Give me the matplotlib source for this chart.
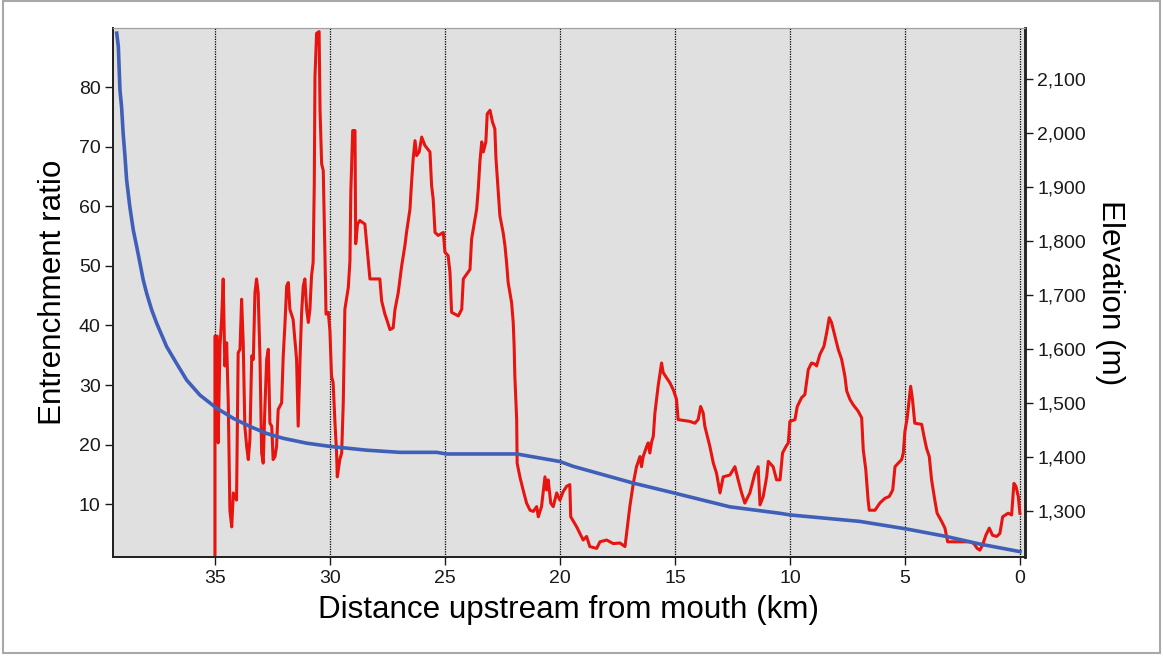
import matplotlib
matplotlib.use("Agg")
import matplotlib.pyplot as plt
from matplotlib.patches import Rectangle
from matplotlib.ticker import FuncFormatter

plt.rcParams['font.family'] = ['Liberation Sans', 'DejaVu Sans']

# Entrenchment ratio along the channel (distance upstream, km)
ratio_km = [35.00, 35.00, 34.90, 34.86, 34.78, 34.71, 34.64, 34.57, 34.49, 34.42,
            34.35, 34.27, 34.20, 34.06, 33.99, 33.91, 33.84, 33.77, 33.70, 33.62,
            33.55, 33.48, 33.40, 33.33, 33.26, 33.19, 33.12, 33.04, 32.97, 32.90,
            32.83, 32.75, 32.68, 32.61, 32.53, 32.47, 32.39, 32.32, 32.25, 32.10,
            32.03, 31.96, 31.88, 31.81, 31.74, 31.60, 31.45, 31.38, 31.30, 31.23,
            31.16, 31.09, 31.01, 30.94, 30.87, 30.80, 30.73, 30.68, 30.65, 30.58,
            30.47, 30.43, 30.36, 30.29, 30.22, 30.17, 30.07, 30.00, 29.93, 29.86,
            29.78, 29.71, 29.68, 29.57, 29.49, 29.42, 29.35, 29.20, 29.13, 29.09,
            29.01, 28.91, 28.88, 28.80, 28.70, 28.48, 28.33, 28.26, 27.83, 27.75,
            27.61, 27.53, 27.39, 27.25, 27.17, 27.03, 26.88, 26.74, 26.67, 26.52,
            26.45, 26.38, 26.30, 26.23, 26.12, 26.01, 25.87, 25.65, 25.58, 25.51,
            25.43, 25.29, 25.07, 25.00, 24.86, 24.78, 24.71, 24.42, 24.27, 24.20,
            23.91, 23.84, 23.62, 23.55, 23.48, 23.40, 23.33, 23.22, 23.16, 23.04,
            22.93, 22.83, 22.78, 22.68, 22.61, 22.47, 22.39, 22.32, 22.25, 22.10,
            22.03, 21.99, 21.96, 21.88, 21.86, 21.74, 21.60, 21.45, 21.30, 21.16,
            21.01, 20.94, 20.80, 20.65, 20.58, 20.51, 20.40, 20.29, 20.14, 20.00,
            19.86, 19.71, 19.57, 19.53, 19.27, 19.13, 18.99, 18.84, 18.70, 18.40,
            18.26, 17.97, 17.68, 17.39, 17.17, 17.10, 16.96, 16.81, 16.67, 16.52,
            16.45, 16.38, 16.23, 16.16, 16.09, 16.01, 15.94, 15.87, 15.73, 15.58,
            15.51, 15.36, 15.22, 15.07, 14.93, 14.86, 14.35, 14.13, 13.99, 13.88,
            13.77, 13.70, 13.55, 13.48, 13.33, 13.19, 13.04, 12.90, 12.61, 12.39,
            12.25, 12.10, 11.96, 11.74, 11.52, 11.38, 11.30, 11.16, 11.01, 10.94,
            10.73, 10.58, 10.43, 10.32, 10.17, 10.07, 10.00, 9.78, 9.68, 9.49,
            9.35, 9.20, 9.06, 8.91, 8.84, 8.70, 8.52, 8.40, 8.29, 8.19,
            8.04, 7.90, 7.75, 7.61, 7.53, 7.39, 7.25, 7.03, 6.88, 6.81,
            6.70, 6.60, 6.55, 6.30, 6.09, 5.87, 5.68, 5.53, 5.43, 5.29,
            5.14, 5.07, 5.00, 4.90, 4.81, 4.75, 4.67, 4.57, 4.27, 4.17,
            4.06, 3.94, 3.84, 3.70, 3.60, 3.40, 3.26, 3.14, 2.83, 2.17,
            2.00, 1.86, 1.74, 1.62, 1.48, 1.33, 1.19, 1.01, 0.87, 0.75,
            0.51, 0.36, 0.26, 0.17, 0.07, 0.00]
ratio = [1.2, 38.2, 38.2, 20.3, 36.5, 41.0, 47.8, 33.2, 37.1, 27.0,
         9.0, 6.2, 11.9, 10.7, 35.4, 36.0, 44.4, 37.1, 23.1, 19.7,
         17.5, 20.8, 34.9, 34.3, 45.5, 47.8, 45.5, 34.3, 18.6, 16.9,
         25.9, 34.3, 36.0, 23.6, 23.1, 17.5, 18.0, 19.7, 25.9, 27.0,
         34.9, 39.9, 46.6, 47.2, 42.7, 41.0, 34.3, 23.1, 34.3, 42.2,
         46.6, 47.8, 42.7, 40.5, 42.7, 48.3, 50.6, 63.8, 81.7, 89.0,
         89.3, 76.1, 67.1, 66.0, 52.5, 41.9, 42.2, 39.1, 31.5, 30.4,
         23.6, 18.6, 14.6, 17.5, 18.6, 27.0, 42.7, 46.4, 50.8, 62.6,
         72.7, 72.7, 53.7, 57.0, 57.6, 57.0, 50.8, 47.8, 47.8, 44.1,
         41.9, 41.0, 39.3, 39.6, 42.7, 45.5, 50.0, 53.4, 55.6, 59.5,
         64.0, 68.0, 71.0, 68.5, 69.1, 71.6, 70.2, 69.1, 63.5, 61.2,
         55.6, 55.1, 55.6, 52.3, 51.7, 48.9, 42.2, 41.6, 42.7, 47.8,
         49.4, 54.5, 59.5, 62.9, 67.4, 70.8, 69.1, 70.8, 75.5, 76.1,
         74.1, 73.0, 68.0, 62.4, 58.4, 55.6, 53.4, 50.6, 47.2, 43.8,
         40.5, 36.5, 31.5, 24.2, 16.9, 14.6, 12.4, 10.2, 9.0, 8.8,
         9.6, 7.9, 9.6, 14.6, 12.4, 14.1, 10.2, 9.6, 11.9, 10.7,
         12.1, 13.0, 13.3, 7.9, 6.2, 5.1, 4.0, 4.6, 2.9, 2.6,
         3.7, 4.0, 3.4, 3.5, 2.9, 5.1, 9.6, 13.5, 16.3, 18.0,
         16.3, 18.0, 19.7, 20.3, 18.6, 20.5, 21.4, 25.3, 29.8, 33.7,
         32.1, 31.2, 30.4, 29.2, 27.6, 24.2, 23.9, 23.6, 24.2, 26.4,
         25.3, 23.1, 20.8, 19.7, 16.9, 15.2, 11.9, 14.6, 14.9, 16.3,
         14.1, 11.9, 10.2, 11.9, 15.2, 16.3, 9.9, 11.3, 14.6, 17.2,
         16.3, 14.1, 14.1, 18.6, 19.7, 20.3, 23.9, 24.2, 26.4, 27.9,
         28.4, 32.6, 33.7, 33.5, 33.2, 35.1, 36.5, 38.8, 41.3, 40.5,
         38.2, 36.0, 34.3, 31.5, 29.0, 27.6, 26.7, 25.6, 24.5, 19.1,
         15.8, 10.7, 9.0, 9.0, 10.2, 11.0, 11.3, 12.4, 16.3, 16.9,
         17.5, 18.6, 22.2, 24.5, 27.6, 29.8, 27.6, 23.6, 23.4, 21.4,
         19.4, 18.0, 14.1, 10.7, 8.5, 7.1, 6.0, 3.7, 3.7, 3.7,
         3.4, 2.6, 2.3, 3.2, 4.8, 6.0, 4.8, 4.6, 5.1, 7.9,
         8.5, 8.2, 13.5, 13.0, 11.3, 8.5]

# Channel elevation profile
elev_km = [39.27, 39.20, 39.13, 39.06, 38.99, 38.91, 38.84, 38.70, 38.55, 38.40,
           38.26, 38.12, 37.97, 37.75, 37.53, 37.10, 36.67, 36.23, 35.65, 34.93,
           34.20, 33.48, 32.75, 32.03, 31.01, 30.00, 28.40, 26.96, 25.36, 24.93,
           21.88, 20.00, 19.42, 16.81, 15.07, 12.61, 10.43, 10.00, 6.96, 4.93,
           3.19, 1.74, 0.00]
elevation = [2185, 2160, 2080, 2049, 1999, 1956, 1913, 1863, 1820, 1789,
             1759, 1728, 1703, 1672, 1647, 1604, 1573, 1542, 1514, 1490,
             1471, 1456, 1443, 1434, 1425, 1419, 1412, 1408, 1408, 1405,
             1405, 1391, 1382, 1351, 1333, 1307, 1295, 1292, 1280, 1266,
             1252, 1238, 1224]

x_ticks = [0, 5, 10, 15, 20, 25, 30, 35]
left_ticks = [10, 20, 30, 40, 50, 60, 70, 80]
right_ticks = [1300, 1400, 1500, 1600, 1700, 1800, 1900, 2000, 2100]

fig = plt.figure(figsize=(11.63, 6.56), dpi=100)
ax = fig.add_axes([0.0972, 0.1509, 0.7841, 0.8064])
ax.set_facecolor('#e0e0e0')

ax.plot(ratio_km, ratio, color='#e8140f', lw=2.2, zorder=3)
ax.set_xlim(39.43, -0.22)
ax.set_ylim(1.15, 89.9)
ax.set_xticks(x_ticks)
ax.set_yticks(left_ticks)
ax.grid(axis='x', color='black', linestyle=(0, (1, 1)), lw=0.9)
ax.set_axisbelow(True)

ax2 = ax.twinx()
ax2.plot(elev_km, elevation, color='#3f5fb8', lw=2.6)
ax2.set_ylim(1214, 2194.5)
ax2.set_yticks(right_ticks)
ax2.yaxis.set_major_formatter(FuncFormatter(lambda v, p: f'{int(v):,}'))

for a in (ax, ax2):
    a.tick_params(direction='out', length=6, width=1, labelsize=14,
                  colors='#1a1a1a', pad=3)
    a.spines['top'].set_color('#a0a0a0')
    a.spines['left'].set_color('#222222')
    a.spines['bottom'].set_color('#222222')
    a.spines['right'].set_color('#222222')
    a.spines['right'].set_linewidth(1.8)
    a.spines['bottom'].set_linewidth(1.3)
    a.spines['left'].set_linewidth(1.3)

ax.set_xlabel('Distance upstream from mouth (km)', fontsize=22.6, labelpad=6)
ax.set_ylabel('Entrenchment ratio', fontsize=22.6, labelpad=8)
ax2.set_ylabel('Elevation (m)', fontsize=22.6, rotation=270, labelpad=28)

fig.patches.append(Rectangle((0.00215, 0.00457), 0.99527, 0.99393,
                             transform=fig.transFigure, fill=False,
                             edgecolor='#a8a8a8', lw=1.5))

fig.savefig('out.png', dpi=100)
